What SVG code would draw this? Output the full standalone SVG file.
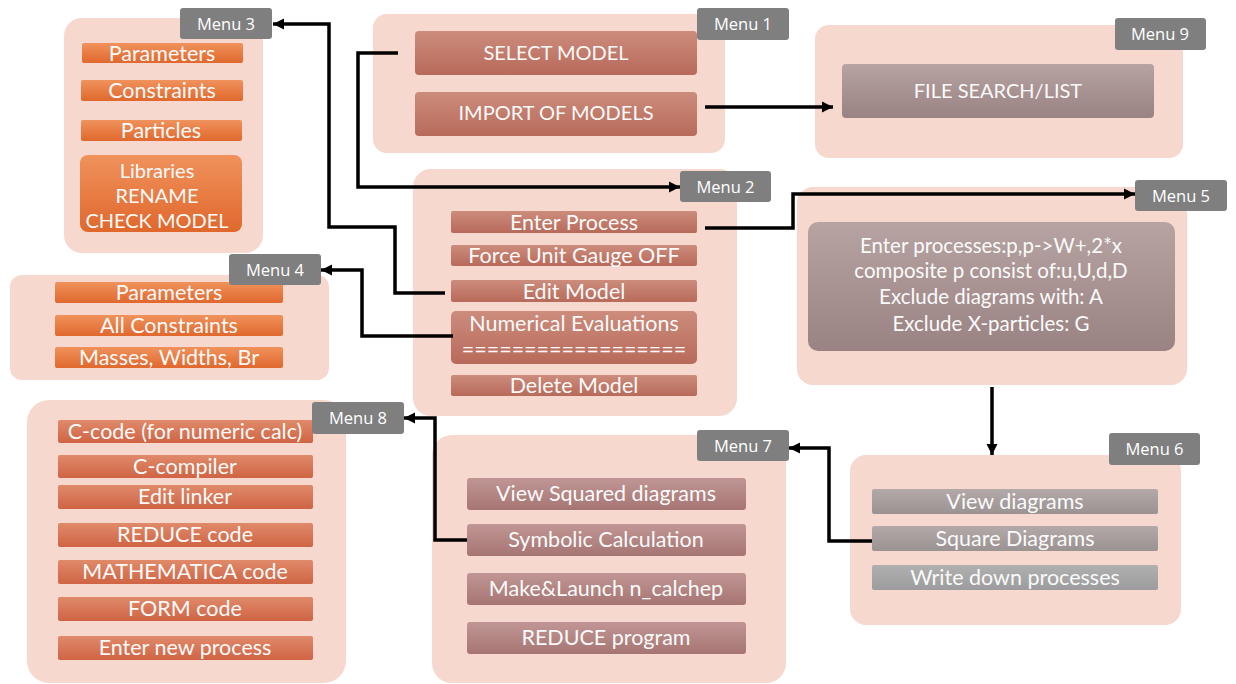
<svg xmlns="http://www.w3.org/2000/svg" width="1236" height="684" viewBox="0 0 1236 684">
<defs>
<linearGradient id="gOr" x1="0" y1="0" x2="0" y2="1"><stop offset="0" stop-color="#F0925C"/><stop offset="1" stop-color="#E0682D"/></linearGradient>
<linearGradient id="gRd" x1="0" y1="0" x2="0" y2="1"><stop offset="0" stop-color="#CC8C7C"/><stop offset="1" stop-color="#B86A5A"/></linearGradient>
<linearGradient id="gOr8" x1="0" y1="0" x2="0" y2="1"><stop offset="0" stop-color="#E08A6A"/><stop offset="1" stop-color="#CF6444"/></linearGradient>
<linearGradient id="gPk" x1="0" y1="0" x2="0" y2="1"><stop offset="0" stop-color="#C09694"/><stop offset="1" stop-color="#A67573"/></linearGradient>
<linearGradient id="gGy" x1="0" y1="0" x2="0" y2="1"><stop offset="0" stop-color="#B6A3A2"/><stop offset="1" stop-color="#9A8382"/></linearGradient>
<linearGradient id="gG6" x1="0" y1="0" x2="0" y2="1"><stop offset="0" stop-color="#B3A9A9"/><stop offset="1" stop-color="#9B9292"/></linearGradient>
<linearGradient id="gG6b" x1="0" y1="0" x2="0" y2="1"><stop offset="0" stop-color="#B0B0B0"/><stop offset="1" stop-color="#9C9C9C"/></linearGradient>
<marker id="ah" viewBox="0 0 10 10" refX="10" refY="5" markerWidth="3.2" markerHeight="3.2" orient="auto" markerUnits="strokeWidth"><path d="M0,0 L10,5 L0,10 z" fill="#000"/></marker>
</defs>
<style>
.box{fill:#F7D8CE}
.lab{fill:#7F7F7F}
.labt{fill:#FFFFFF;font-family:"Open Sans","Liberation Sans",sans-serif;font-size:16.5px;text-anchor:middle}
.t{fill:#FAFAFA;font-family:Lato,"Open Sans","Liberation Sans",sans-serif;font-size:21.5px;text-anchor:middle}
.t2{fill:#FAFAFA;font-family:Lato,"Open Sans","Liberation Sans",sans-serif;font-size:20px;text-anchor:middle}
.t5{fill:#FAFAFA;font-family:Lato,"Open Sans","Liberation Sans",sans-serif;font-size:20.5px;text-anchor:middle}
.or{fill:url(#gOr)}
.rd{fill:url(#gRd)}
.or8{fill:url(#gOr8)}
.pk{fill:url(#gPk)}
.gy{fill:url(#gGy)}
.g6{fill:url(#gG6)}
.g6b{fill:url(#gG6b)}
.c{fill:none;stroke:#000;stroke-width:3.5}
</style>

<g id="menu3">
<rect class="box" x="64" y="18" width="199" height="235" rx="18"/>
<rect class="or" x="82" y="43" width="161" height="20" rx="2"/>
<text class="t" x="162" y="60.5">Parameters</text>
<rect class="or" x="81" y="80" width="162" height="21" rx="2"/>
<text class="t" x="162" y="98">Constraints</text>
<rect class="or" x="81" y="120" width="161" height="21" rx="2"/>
<text class="t" x="161" y="138">Particles</text>
<rect class="or" x="80" y="155" width="162" height="77" rx="8"/>
<text class="t2" x="157" y="178">Libraries</text>
<text class="t2" x="157" y="203">RENAME</text>
<text class="t2" x="157" y="228">CHECK MODEL</text>
<rect class="lab" x="180" y="8" width="92" height="31" rx="3"/>
<text class="labt" x="226" y="29.5">Menu 3</text>
</g>

<g id="menu1">
<rect class="box" x="373" y="14" width="352" height="139" rx="14"/>
<rect class="rd" x="415" y="31" width="282" height="44" rx="4"/>
<text class="t2" x="556" y="60">SELECT MODEL</text>
<rect class="rd" x="415" y="92" width="282" height="44" rx="4"/>
<text class="t2" x="556" y="120">IMPORT OF MODELS</text>
<rect class="lab" x="697" y="8" width="92" height="32" rx="3"/>
<text class="labt" x="743" y="30">Menu 1</text>
</g>

<g id="menu9">
<rect class="box" x="815" y="25" width="368" height="133" rx="14"/>
<rect class="gy" x="842" y="64" width="312" height="54" rx="4"/>
<text class="t2" x="998" y="98">FILE SEARCH/LIST</text>
<rect class="lab" x="1115" y="18" width="91" height="32" rx="3"/>
<text class="labt" x="1160" y="40">Menu 9</text>
</g>

<g id="menu4">
<rect class="box" x="10" y="275" width="319" height="105" rx="12"/>
<rect class="or" x="55" y="282" width="228" height="21" rx="2"/>
<text class="t" x="169" y="300">Parameters</text>
<rect class="or" x="55" y="315" width="228" height="21" rx="2"/>
<text class="t" x="169" y="333">All Constraints</text>
<rect class="or" x="55" y="347" width="228" height="21" rx="2"/>
<text class="t" x="169" y="365">Masses, Widths, Br</text>
<rect class="lab" x="229" y="254" width="92" height="31" rx="3"/>
<text class="labt" x="275" y="275.5">Menu 4</text>
</g>

<g id="menu2">
<rect class="box" x="413" y="169" width="324" height="247" rx="18"/>
<rect class="rd" x="451" y="211" width="246" height="22" rx="2"/>
<text class="t" x="574" y="229.5">Enter Process</text>
<rect class="rd" x="451" y="245" width="246" height="21" rx="2"/>
<text class="t" x="574" y="263">Force Unit Gauge OFF</text>
<rect class="rd" x="451" y="280" width="246" height="22" rx="2"/>
<text class="t" x="574" y="298.5">Edit Model</text>
<rect class="rd" x="451" y="311" width="246" height="53" rx="5"/>
<text class="t" x="574" y="331">Numerical Evaluations</text>
<text class="t" x="574" y="357">==================</text>
<rect class="rd" x="451" y="375" width="246" height="21" rx="2"/>
<text class="t" x="574" y="393">Delete Model</text>
<rect class="lab" x="680" y="171" width="91" height="31" rx="3"/>
<text class="labt" x="725.5" y="192.5">Menu 2</text>
</g>

<g id="menu5">
<rect class="box" x="797" y="187" width="390" height="198" rx="16"/>
<rect class="gy" x="808" y="222" width="367" height="129" rx="10"/>
<text class="t5" x="991" y="253">Enter processes:p,p-&gt;W+,2*x</text>
<text class="t5" x="991" y="278">composite p consist of:u,U,d,D</text>
<text class="t5" x="991" y="304">Exclude diagrams with: A</text>
<text class="t5" x="991" y="331">Exclude X-particles: G</text>
<rect class="lab" x="1135" y="180" width="92" height="31" rx="3"/>
<text class="labt" x="1181" y="201.5">Menu 5</text>
</g>

<g id="menu8">
<rect class="box" x="27" y="400" width="319" height="283" rx="22"/>
<rect class="or8" x="58" y="420" width="255" height="23" rx="2"/>
<text class="t" x="185" y="439">C-code (for numeric calc)</text>
<rect class="or8" x="58" y="455" width="255" height="23" rx="2"/>
<text class="t" x="185" y="474">C-compiler</text>
<rect class="or8" x="58" y="485" width="255" height="24" rx="2"/>
<text class="t" x="185" y="504">Edit linker</text>
<rect class="or8" x="58" y="523" width="255" height="24" rx="2"/>
<text class="t" x="185" y="542">REDUCE code</text>
<rect class="or8" x="58" y="560" width="255" height="24" rx="2"/>
<text class="t" x="185" y="579">MATHEMATICA code</text>
<rect class="or8" x="58" y="597" width="255" height="24" rx="2"/>
<text class="t" x="185" y="616">FORM code</text>
<rect class="or8" x="58" y="636" width="255" height="24" rx="2"/>
<text class="t" x="185" y="655">Enter new process</text>
<rect class="lab" x="312" y="402" width="92" height="32" rx="3"/>
<text class="labt" x="358" y="424">Menu 8</text>
</g>

<g id="menu7">
<rect class="box" x="432" y="435" width="354" height="248" rx="20"/>
<rect class="pk" x="467" y="478" width="279" height="32" rx="3"/>
<text class="t" x="606" y="501">View Squared diagrams</text>
<rect class="pk" x="467" y="524" width="279" height="32" rx="3"/>
<text class="t" x="606" y="547">Symbolic Calculation</text>
<rect class="pk" x="467" y="573" width="279" height="32" rx="3"/>
<text class="t" x="606" y="596">Make&amp;Launch n_calchep</text>
<rect class="pk" x="467" y="622" width="279" height="32" rx="3"/>
<text class="t" x="606" y="645">REDUCE program</text>
<rect class="lab" x="697" y="430" width="92" height="31" rx="3"/>
<text class="labt" x="743" y="451.5">Menu 7</text>
</g>

<g id="menu6">
<rect class="box" x="850" y="455" width="331" height="170" rx="16"/>
<rect class="g6" x="872" y="489" width="286" height="25" rx="2"/>
<text class="t" x="1015" y="509">View diagrams</text>
<rect class="g6" x="872" y="526" width="286" height="25" rx="2"/>
<text class="t" x="1015" y="546">Square Diagrams</text>
<rect class="g6b" x="872" y="565" width="286" height="25" rx="2"/>
<text class="t" x="1015" y="585">Write down processes</text>
<rect class="lab" x="1109" y="433" width="91" height="32" rx="3"/>
<text class="labt" x="1154.5" y="455">Menu 6</text>
</g>

<g id="connectors">
<path class="c" d="M398,53 H358 V187 H680" marker-end="url(#ah)"/>
<path class="c" d="M445,293 H395 V227 H329 V24 H273" marker-end="url(#ah)"/>
<path class="c" d="M453,336 H362 V270 H321" marker-end="url(#ah)"/>
<path class="c" d="M705,107 H833" marker-end="url(#ah)"/>
<path class="c" d="M705,228 H793 V194 H1135" marker-end="url(#ah)"/>
<path class="c" d="M992,387 V455" marker-end="url(#ah)"/>
<path class="c" d="M872,541 H829 V448 H789" marker-end="url(#ah)"/>
<path class="c" d="M467,540 H435 V418 H404" marker-end="url(#ah)"/>
</g>
</svg>
